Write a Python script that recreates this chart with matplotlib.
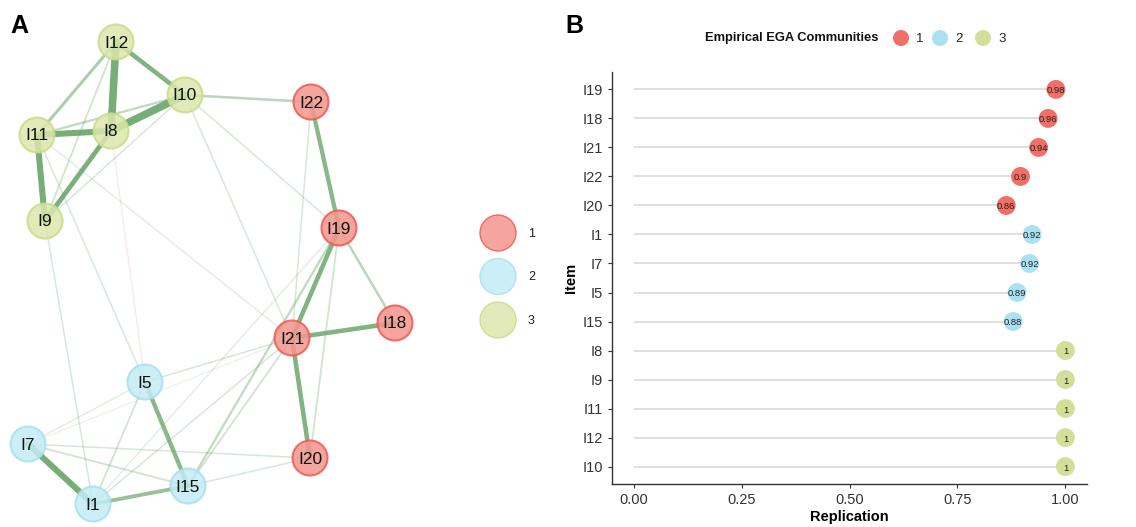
import numpy as np
import matplotlib.pyplot as plt
from matplotlib.patches import Circle

plt.rcParams['font.family'] = ['Liberation Sans', 'DejaVu Sans']

# community colours (panel A nodes are drawn lighter)
comm_fill = {1: '#f5958d', 2: '#c4ebf5', 3: '#dde7ad'}
comm_edge = {1: '#ee5a52', 2: '#a6e0f0', 3: '#cadc86'}
comm_dot = {1: '#f26e66', 2: '#a9e1f1', 3: '#d3de98'}

# panel A: network layout (pixel-like coordinates, y down)
node_names = ['I12', 'I10', 'I22', 'I11', 'I8', 'I9', 'I19', 'I21',
              'I18', 'I5', 'I7', 'I20', 'I15', 'I1']
node_x = [116, 185, 311, 37, 111, 45, 339, 292, 395, 145, 28, 310, 188, 93]
node_y = [42, 95, 102, 135, 131, 221, 228, 338, 323, 382, 444, 458, 486, 504]
node_comm = [3, 3, 1, 3, 3, 3, 1, 1, 1, 2, 2, 1, 2, 2]

edge_from = ['I12', 'I8', 'I11', 'I11', 'I8', 'I12', 'I12', 'I11', 'I12', 'I10',
             'I10', 'I22', 'I22', 'I10', 'I10', 'I19', 'I19', 'I19', 'I21', 'I21',
             'I11', 'I8', 'I9', 'I11', 'I5', 'I5', 'I5', 'I5', 'I7', 'I7',
             'I7', 'I7', 'I1', 'I1', 'I15', 'I15', 'I15', 'I1']
edge_to = ['I8', 'I10', 'I8', 'I9', 'I9', 'I10', 'I11', 'I10', 'I9', 'I9',
           'I22', 'I19', 'I21', 'I19', 'I21', 'I21', 'I18', 'I20', 'I18', 'I20',
           'I21', 'I5', 'I1', 'I5', 'I21', 'I15', 'I1', 'I7', 'I1', 'I15',
           'I20', 'I21', 'I15', 'I21', 'I21', 'I19', 'I20', 'I19']
edge_w = [0.28, 0.28, 0.22, 0.22, 0.17, 0.16, 0.10, 0.07, 0.05, 0.04,
          0.08, 0.15, 0.04, 0.04, 0.04, 0.16, 0.08, 0.05, 0.16, 0.16,
          0.03, -0.03, 0.04, 0.04, 0.04, 0.15, 0.05, 0.03, 0.22, 0.05,
          0.04, 0.02, 0.13, 0.04, 0.05, 0.07, 0.04, 0.03]

# panel B: item replication
items = ['I19', 'I18', 'I21', 'I22', 'I20', 'I1', 'I7', 'I5', 'I15',
         'I8', 'I9', 'I11', 'I12', 'I10']
replication = [0.978, 0.96, 0.938, 0.896, 0.863, 0.923, 0.917, 0.888, 0.879,
               1, 1, 1, 1, 1]
rep_labels = ['0.98', '0.96', '0.94', '0.9', '0.86', '0.92', '0.92', '0.89', '0.88',
              '1', '1', '1', '1', '1']
item_comm = [1, 1, 1, 1, 1, 2, 2, 2, 2, 3, 3, 3, 3, 3]

fig = plt.figure(figsize=(11.36, 5.27), dpi=100)

# ---- panel A ----
axA = fig.add_axes([0, 0, 1, 1])
axA.set_xlim(0, 1136)
axA.set_ylim(527, 0)
axA.axis('off')

pos = {n: (x, y) for n, x, y in zip(node_names, node_x, node_y)}
for a, b, w in sorted(zip(edge_from, edge_to, edge_w), key=lambda t: abs(t[2])):
    (x0, y0), (x1, y1) = pos[a], pos[b]
    col = '#5f9f5f' if w > 0 else '#f08080'
    alpha = min(0.85, 0.06 + 4.5 * abs(w))
    axA.plot([x0, x1], [y0, y1], color=col, lw=abs(w) * 18 + 0.4,
             alpha=alpha, solid_capstyle='round', zorder=1)

for n, x, y, c in zip(node_names, node_x, node_y, node_comm):
    axA.add_patch(Circle((x, y), 17.5, facecolor=comm_fill[c], edgecolor=comm_edge[c],
                         lw=1.5, alpha=0.85, zorder=3))
    axA.text(x, y + 1, n, ha='center', va='center', fontsize=12.5, color='#111111', zorder=4)

# panel A legend
for i, c in enumerate([1, 2, 3]):
    ly = 233 + i * 43.5
    axA.add_patch(Circle((498, ly), 18, facecolor=comm_fill[c], edgecolor=comm_edge[c],
                         lw=1, alpha=0.85, zorder=3))
    axA.text(528, ly + 1, str(c), ha='left', va='center', fontsize=9, color='#222222')

axA.text(10, 26, 'A', ha='left', va='center', fontsize=18, fontweight='bold')
axA.text(565, 26, 'B', ha='left', va='center', fontsize=18, fontweight='bold')

# panel B legend
axA.text(705, 38, 'Empirical EGA Communities', ha='left', va='center',
         fontsize=9.3, fontweight='bold', color='#111111')
leg_x = [901, 940, 983]
for c, lx in zip([1, 2, 3], leg_x):
    axA.add_patch(Circle((lx, 38), 8, facecolor=comm_dot[c], edgecolor='none', zorder=3))
    axA.text(lx + 15, 39, str(c), ha='left', va='center', fontsize=9.5, color='#222222')

# ---- panel B ----
axB = fig.add_axes([612 / 1136, 1 - 484 / 527, (1087 - 612) / 1136, (484 - 72) / 527])
axB.patch.set_alpha(0)
ypos = np.arange(len(items))
axB.hlines(ypos, 0, replication, color='#d9d9d9', lw=1.2, zorder=1)
axB.scatter(replication, ypos, s=185, c=[comm_dot[c] for c in item_comm],
            edgecolors='none', zorder=2)
for v, y, lab in zip(replication, ypos, rep_labels):
    axB.text(v, y + 0.05, lab, ha='center', va='center', fontsize=6.8, color='#222222', zorder=3)

axB.set_ylim(len(items) - 0.4, -0.6)
axB.set_xlim(-0.05, 1.05)
axB.set_yticks(ypos)
axB.set_yticklabels(items, fontsize=10.5, color='#333333')
axB.set_xticks([0, 0.25, 0.5, 0.75, 1.0])
axB.set_xticklabels(['0.00', '0.25', '0.50', '0.75', '1.00'], fontsize=10.5, color='#333333')
axB.tick_params(length=3, color='#333333', width=0.8)
for s in ['top', 'right']:
    axB.spines[s].set_visible(False)
for s in ['left', 'bottom']:
    axB.spines[s].set_color('#333333')
    axB.spines[s].set_linewidth(1.0)
axB.set_xlabel('Replication', fontsize=10.5, fontweight='bold', labelpad=2)
axB.set_ylabel('Item', fontsize=10.5, fontweight='bold', labelpad=3)

fig.savefig('out.png', dpi=100)
